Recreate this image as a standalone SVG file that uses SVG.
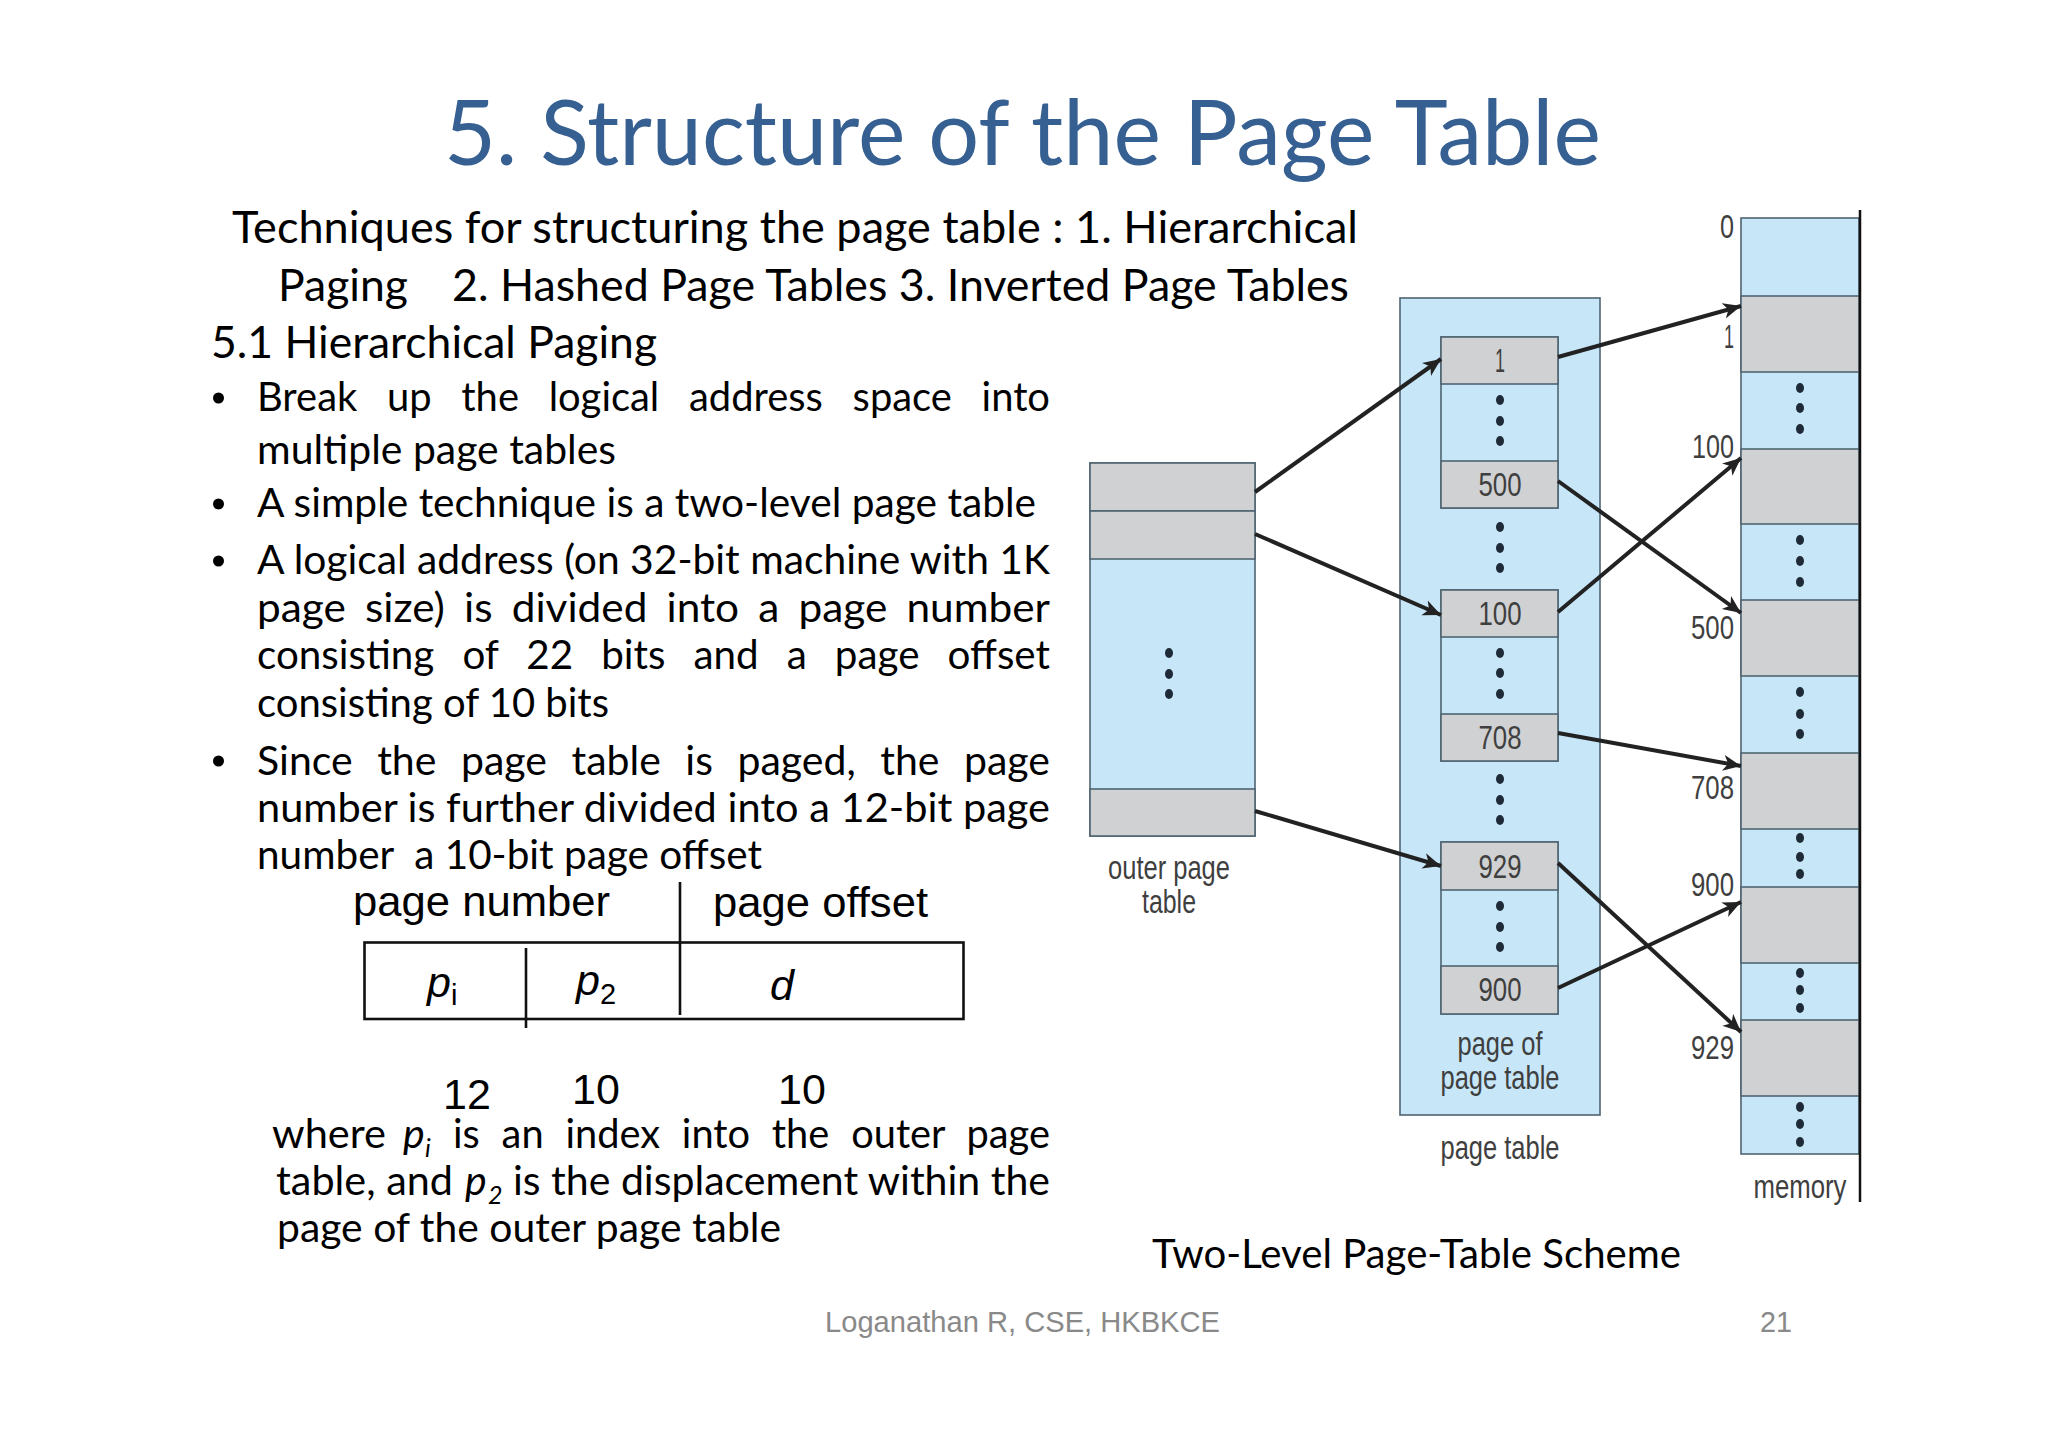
<svg xmlns="http://www.w3.org/2000/svg" width="2048" height="1447" viewBox="0 0 2048 1447">
<defs>
<marker id="arrow" markerUnits="userSpaceOnUse" markerWidth="22" markerHeight="20" refX="18" refY="8" orient="auto"><path d="M0,0 L18,8 L0,16 L5,8 Z" fill="#222"/></marker>
</defs>
<style>
.b{fill:#c7e7f9;stroke:#4f6472;stroke-width:1.6}
.g{fill:#d0d1d3;stroke:#4f6472;stroke-width:1.6}
.d{fill:#1f2a38}
.l{font-family:"Liberation Sans",Arial,sans-serif;font-size:33px;fill:#3f3f3f}
.c{text-anchor:middle}
.t{font-family:Lato,"Open Sans",sans-serif;font-size:44px;fill:#000}
.s{font-family:Lato,"Open Sans",sans-serif;font-size:41px;fill:#000}
.a{font-family:"Liberation Sans",Arial,sans-serif;font-size:43px;fill:#000}
.i{font-style:italic}
.f{font-family:"Liberation Sans",Arial,sans-serif;font-size:29px;fill:#898989}
.k{stroke:#111;fill:none;stroke-width:2.6}
.e{stroke:#222;stroke-width:4;fill:none;marker-end:url(#arrow)}
</style>
<rect width="2048" height="1447" fill="#fff"/>

<g id="title"><text x="444" y="165" textLength="1157" lengthAdjust="spacingAndGlyphs" style="font-family:Lato,'Open Sans',sans-serif;font-size:92px;fill:#376092">5. Structure of the Page Table</text></g>

<g id="body">
<text class="t" x="232" y="243" textLength="1126" lengthAdjust="spacingAndGlyphs">Techniques for structuring the page table : 1. Hierarchical</text>
<text class="t" x="278" y="301" textLength="130" lengthAdjust="spacingAndGlyphs">Paging</text>
<text class="t" x="452" y="301" textLength="897" lengthAdjust="spacingAndGlyphs">2. Hashed Page Tables 3. Inverted Page Tables</text>
<text class="t" x="211" y="358" textLength="446" lengthAdjust="spacingAndGlyphs">5.1 Hierarchical Paging</text>
<circle cx="218.500" cy="398" r="5.500"/><circle cx="218.500" cy="504" r="5.500"/><circle cx="218.500" cy="561" r="5.500"/><circle cx="218.500" cy="761" r="5.500"/>
<text class="s" x="257" y="411" textLength="793" lengthAdjust="spacingAndGlyphs" word-spacing="20">Break up the logical address space into</text>
<text class="s" x="257" y="464" textLength="359" lengthAdjust="spacingAndGlyphs">multiple page tables</text>
<text class="s" x="257" y="517" textLength="779" lengthAdjust="spacingAndGlyphs">A simple technique is a two-level page table</text>
<text class="s" x="257" y="574" textLength="793" lengthAdjust="spacingAndGlyphs">A logical address (on 32-bit machine with 1K</text>
<text class="s" x="257" y="622" textLength="793" lengthAdjust="spacingAndGlyphs" word-spacing="8">page size) is divided into a page number</text>
<text class="s" x="257" y="669" textLength="793" lengthAdjust="spacingAndGlyphs" word-spacing="18">consisting of 22 bits and a page offset</text>
<text class="s" x="257" y="717" textLength="352" lengthAdjust="spacingAndGlyphs">consisting of 10 bits</text>
<text class="s" x="257" y="775" textLength="793" lengthAdjust="spacingAndGlyphs" word-spacing="14">Since the page table is paged, the page</text>
<text class="s" x="257" y="822" textLength="793" lengthAdjust="spacingAndGlyphs">number is further divided into a 12-bit page</text>
<text class="s" x="257" y="869" textLength="505" lengthAdjust="spacingAndGlyphs" xml:space="preserve">number  a 10-bit page offset</text>
<text class="s" x="272" y="1148" textLength="114" lengthAdjust="spacingAndGlyphs">where</text>
<text class="s i" x="403" y="1148">p</text>
<text class="s i" x="425" y="1157" style="font-size:25px">i</text>
<text class="s" x="453" y="1148" textLength="597" lengthAdjust="spacingAndGlyphs" word-spacing="12">is an index into the outer page</text>
<text class="s" x="276" y="1195" textLength="177" lengthAdjust="spacingAndGlyphs">table, and</text>
<text class="s i" x="465" y="1195">p</text>
<text class="s i" x="488" y="1204" style="font-size:25px">2</text>
<text class="s" x="513" y="1195" textLength="537" lengthAdjust="spacingAndGlyphs">is the displacement within the</text>
<text class="s" x="277" y="1242" textLength="504" lengthAdjust="spacingAndGlyphs">page of the outer page table</text>
</g>

<g id="address-format">
<text class="a" x="353" y="916" textLength="257" lengthAdjust="spacingAndGlyphs">page number</text>
<text class="a" x="713" y="917" textLength="215" lengthAdjust="spacingAndGlyphs">page offset</text>
<rect class="k" x="364.500" y="942.500" width="599" height="76.500"/>
<path class="k" d="M526 948V1028M680 882V1015"/>
<text class="a i" x="427" y="997">p</text><text class="a" x="451" y="1005" style="font-size:29px">i</text>
<text class="a i" x="576" y="995">p</text><text class="a" x="600" y="1004" style="font-size:29px">2</text>
<text class="a i" x="770" y="1000">d</text>
<text class="a" x="443" y="1109">12</text><text class="a" x="572" y="1104">10</text><text class="a" x="778" y="1104">10</text>
</g>

<g id="outer-page-table">
<rect class="b" x="1090" y="463" width="165" height="373"/>
<rect class="g" x="1090" y="463" width="165" height="48"/>
<rect class="g" x="1090" y="511" width="165" height="48"/>
<rect class="g" x="1090" y="789" width="165" height="47"/>
<ellipse class="d" cx="1169" cy="653" rx="4" ry="5"/><ellipse class="d" cx="1169" cy="674" rx="4" ry="5"/><ellipse class="d" cx="1169" cy="694" rx="4" ry="5"/>
<text class="l c" x="1169" y="879" textLength="122" lengthAdjust="spacingAndGlyphs">outer page</text>
<text class="l c" x="1169" y="913" textLength="54" lengthAdjust="spacingAndGlyphs">table</text>
</g>

<g id="page-table">
<rect class="b" x="1400" y="298" width="200" height="817"/>
<rect class="b" x="1441" y="337" width="117" height="171"/>
<rect class="b" x="1441" y="590" width="117" height="171"/>
<rect class="b" x="1441" y="842" width="117" height="172"/>
<rect class="g" x="1441" y="337" width="117" height="47"/>
<rect class="g" x="1441" y="461" width="117" height="47"/>
<rect class="g" x="1441" y="590" width="117" height="47"/>
<rect class="g" x="1441" y="714" width="117" height="47"/>
<rect class="g" x="1441" y="842" width="117" height="48"/>
<rect class="g" x="1441" y="966" width="117" height="48"/>
<g class="d">
<ellipse cx="1500" cy="400" rx="4" ry="5"/><ellipse cx="1500" cy="421" rx="4" ry="5"/><ellipse cx="1500" cy="441" rx="4" ry="5"/>
<ellipse cx="1500" cy="527" rx="4" ry="5"/><ellipse cx="1500" cy="548" rx="4" ry="5"/><ellipse cx="1500" cy="568" rx="4" ry="5"/>
<ellipse cx="1500" cy="653" rx="4" ry="5"/><ellipse cx="1500" cy="673" rx="4" ry="5"/><ellipse cx="1500" cy="694" rx="4" ry="5"/>
<ellipse cx="1500" cy="779" rx="4" ry="5"/><ellipse cx="1500" cy="800" rx="4" ry="5"/><ellipse cx="1500" cy="820" rx="4" ry="5"/>
<ellipse cx="1500" cy="906" rx="4" ry="5"/><ellipse cx="1500" cy="927" rx="4" ry="5"/><ellipse cx="1500" cy="947" rx="4" ry="5"/>
</g>
<text class="l c" x="1500" y="372" textLength="10" lengthAdjust="spacingAndGlyphs">1</text>
<text class="l c" x="1500" y="496" textLength="43" lengthAdjust="spacingAndGlyphs">500</text>
<text class="l c" x="1500" y="625" textLength="43" lengthAdjust="spacingAndGlyphs">100</text>
<text class="l c" x="1500" y="749" textLength="43" lengthAdjust="spacingAndGlyphs">708</text>
<text class="l c" x="1500" y="878" textLength="43" lengthAdjust="spacingAndGlyphs">929</text>
<text class="l c" x="1500" y="1001" textLength="43" lengthAdjust="spacingAndGlyphs">900</text>
<text class="l c" x="1500" y="1055" textLength="85" lengthAdjust="spacingAndGlyphs">page of</text>
<text class="l c" x="1500" y="1089" textLength="119" lengthAdjust="spacingAndGlyphs">page table</text>
<text class="l c" x="1500" y="1159" textLength="119" lengthAdjust="spacingAndGlyphs">page table</text>
</g>

<g id="memory">
<rect class="b" x="1741" y="218" width="118" height="936"/>
<rect class="g" x="1741" y="296" width="118" height="76"/>
<rect class="g" x="1741" y="449" width="118" height="75"/>
<rect class="g" x="1741" y="600" width="118" height="76"/>
<rect class="g" x="1741" y="753" width="118" height="76"/>
<rect class="g" x="1741" y="887" width="118" height="76"/>
<rect class="g" x="1741" y="1020" width="118" height="76"/>
<path d="M1860 210V1202" stroke="#111" stroke-width="2.500" fill="none"/>
<g class="d">
<ellipse cx="1800" cy="388" rx="4" ry="5"/><ellipse cx="1800" cy="408" rx="4" ry="5"/><ellipse cx="1800" cy="429" rx="4" ry="5"/>
<ellipse cx="1800" cy="540" rx="4" ry="5"/><ellipse cx="1800" cy="561" rx="4" ry="5"/><ellipse cx="1800" cy="582" rx="4" ry="5"/>
<ellipse cx="1800" cy="692" rx="4" ry="5"/><ellipse cx="1800" cy="714" rx="4" ry="5"/><ellipse cx="1800" cy="734" rx="4" ry="5"/>
<ellipse cx="1800" cy="838" rx="4" ry="5"/><ellipse cx="1800" cy="857" rx="4" ry="5"/><ellipse cx="1800" cy="874" rx="4" ry="5"/>
<ellipse cx="1800" cy="973" rx="4" ry="5"/><ellipse cx="1800" cy="990" rx="4" ry="5"/><ellipse cx="1800" cy="1008" rx="4" ry="5"/>
<ellipse cx="1800" cy="1107" rx="4" ry="5"/><ellipse cx="1800" cy="1124" rx="4" ry="5"/><ellipse cx="1800" cy="1142" rx="4" ry="5"/>
</g>
<text class="l" x="1720" y="238" textLength="14" lengthAdjust="spacingAndGlyphs">0</text>
<text class="l" x="1724" y="348" textLength="10" lengthAdjust="spacingAndGlyphs">1</text>
<text class="l" x="1692" y="458" textLength="42" lengthAdjust="spacingAndGlyphs">100</text>
<text class="l" x="1691" y="639" textLength="43" lengthAdjust="spacingAndGlyphs">500</text>
<text class="l" x="1691" y="799" textLength="43" lengthAdjust="spacingAndGlyphs">708</text>
<text class="l" x="1691" y="896" textLength="43" lengthAdjust="spacingAndGlyphs">900</text>
<text class="l" x="1691" y="1059" textLength="43" lengthAdjust="spacingAndGlyphs">929</text>
<text class="l c" x="1800" y="1198" textLength="93" lengthAdjust="spacingAndGlyphs">memory</text>
</g>

<g id="connectors">
<path class="e" d="M1255 492L1441 359"/>
<path class="e" d="M1255 534L1441 615"/>
<path class="e" d="M1255 811L1441 866"/>
<path class="e" d="M1558 357L1741 306"/>
<path class="e" d="M1558 481L1741 613"/>
<path class="e" d="M1558 612L1741 458"/>
<path class="e" d="M1558 733L1741 766"/>
<path class="e" d="M1558 863L1741 1032"/>
<path class="e" d="M1558 988L1741 902"/>
</g>

<g id="caption"><text class="s" x="1152" y="1268" textLength="529" lengthAdjust="spacingAndGlyphs">Two-Level Page-Table Scheme</text></g>
<g id="footer">
<text class="f" x="825" y="1332" textLength="395" lengthAdjust="spacingAndGlyphs">Loganathan R, CSE, HKBKCE</text>
<text class="f" x="1760" y="1332" textLength="32" lengthAdjust="spacingAndGlyphs">21</text>
</g>
</svg>
